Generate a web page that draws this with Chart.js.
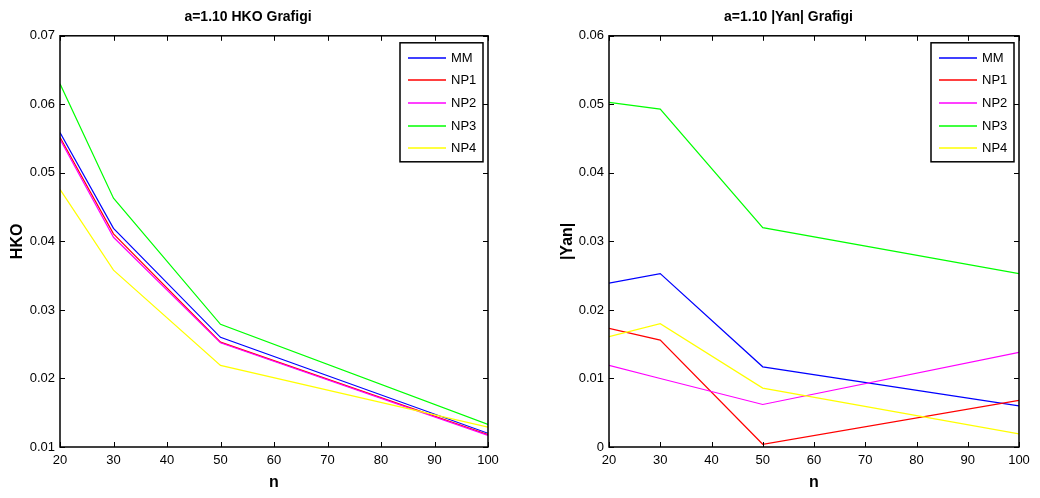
<!DOCTYPE html>
<html>
<head>
<meta charset="utf-8">
<script src="https://cdn.jsdelivr.net/npm/chart.js@4.4.1/dist/chart.umd.min.js"></script>
<style>
    html, body { margin: 0; padding: 0; background: #fff; }
    .wrap { position: absolute; top: 0; width: 520px; height: 498px; }
</style>
</head>
<body>
<div class="wrap" style="left:0"><canvas id="hkoChart" width="520" height="498"></canvas></div>
<div class="wrap" style="left:520px"><canvas id="yanChart" width="520" height="498"></canvas></div>
<script>
const nValues = [20, 30, 50, 100];
const seriesNames = ['MM', 'NP1', 'NP2', 'NP3', 'NP4'];
const seriesColors = ['#0000ff', '#ff0000', '#ff00ff', '#00ff00', '#ffff00'];

// HKO
const hkoMM  = [0.0559, 0.0419, 0.0260, 0.0120];
const hkoNP1 = [0.0552, 0.0411, 0.0253, 0.0118];
const hkoNP2 = [0.0549, 0.0406, 0.0252, 0.0117];
const hkoNP3 = [0.0630, 0.0463, 0.0279, 0.0133];
const hkoNP4 = [0.0476, 0.0358, 0.0219, 0.0129];

// |Yan|
const yanMM  = [0.0239, 0.0253, 0.0117, 0.0060];
const yanNP1 = [0.0173, 0.0156, 0.0004, 0.0068];
const yanNP2 = [0.0119, 0.0100, 0.0062, 0.0138];
const yanNP3 = [0.0503, 0.0493, 0.0320, 0.0253];
const yanNP4 = [0.0161, 0.0180, 0.0086, 0.0019];

const FONT = '"Liberation Sans", Arial, sans-serif';

// matlab tarzi kutu + iceri bakan tickler + kutulu legend
const matlabBox = {
    id: 'matlabBox',
    afterDatasetsDraw(chart) {
        const ctx = chart.ctx;
        const a = chart.chartArea;
        const xs = chart.scales.x, ys = chart.scales.y;
        ctx.save();
        ctx.strokeStyle = '#000';
        ctx.lineWidth = 1;
        xs.ticks.forEach(t => {
            const px = Math.round(xs.getPixelForValue(t.value)) + 0.5;
            ctx.beginPath();
            ctx.moveTo(px, a.bottom); ctx.lineTo(px, a.bottom - 5);
            ctx.moveTo(px, a.top); ctx.lineTo(px, a.top + 5);
            ctx.stroke();
        });
        ys.ticks.forEach(t => {
            const py = Math.round(ys.getPixelForValue(t.value)) + 0.5;
            ctx.beginPath();
            ctx.moveTo(a.left, py); ctx.lineTo(a.left + 5, py);
            ctx.moveTo(a.right, py); ctx.lineTo(a.right - 5, py);
            ctx.stroke();
        });
        ctx.lineWidth = 1.5;
        ctx.strokeRect(a.left, a.top, a.right - a.left, a.bottom - a.top);

        // legend
        const bw = 83, bh = 119;
        const bx = a.right - 5 - bw, by = a.top + 7;
        ctx.fillStyle = '#fff';
        ctx.fillRect(bx, by, bw, bh);
        ctx.lineWidth = 1.5;
        ctx.strokeRect(bx, by, bw, bh);
        ctx.font = '13px ' + FONT;
        ctx.textBaseline = 'middle';
        chart.data.datasets.forEach((ds, i) => {
            const ly = Math.round(by + 15 + i * 22.6);
            ctx.strokeStyle = ds.borderColor;
            ctx.lineWidth = 1.6;
            ctx.beginPath();
            ctx.moveTo(bx + 8, ly); ctx.lineTo(bx + 46, ly);
            ctx.stroke();
            ctx.fillStyle = '#000';
            ctx.fillText(ds.label, bx + 51, ly);
        });
        ctx.restore();
    }
};

function makeChart(canvasId, titleText, yTitle, data, yMin, yMax, opts) {
    const datasets = data.map((vals, i) => ({
        label: seriesNames[i],
        data: vals.map((v, k) => ({ x: nValues[k], y: v })),
        borderColor: seriesColors[i],
        backgroundColor: seriesColors[i],
        borderWidth: 1.2,
        pointRadius: 0,
        tension: 0,
        fill: false,
        order: data.length - i
    }));

    return new Chart(document.getElementById(canvasId).getContext('2d'), {
        type: 'line',
        data: { datasets: datasets },
        options: {
            responsive: false,
            animation: false,
            layout: { padding: { left: opts.padLeft, right: opts.padRight, top: 0, bottom: 0 } },
            plugins: {
                legend: { display: false },
                tooltip: { enabled: false },
                title: {
                    display: true,
                    text: titleText,
                    color: '#000',
                    font: { family: FONT, size: 14, weight: 'bold' },
                    padding: { top: 9, bottom: opts.titleGap }
                }
            },
            scales: {
                x: {
                    type: 'linear',
                    min: 20,
                    max: 100,
                    ticks: {
                        stepSize: 10,
                        color: '#000',
                        padding: 6,
                        font: { family: FONT, size: 13 }
                    },
                    grid: { display: false, drawTicks: false, tickLength: 0 },
                    border: { display: false },
                    title: {
                        display: true,
                        text: 'n',
                        color: '#000',
                        font: { family: FONT, size: 16, weight: 'bold' },
                        padding: { top: 2, bottom: 6 }
                    },
                    afterFit: function (scale) { scale.height = 51; }
                },
                y: {
                    min: yMin,
                    max: yMax,
                    ticks: {
                        stepSize: 0.01,
                        color: '#000',
                        padding: 5,
                        font: { family: FONT, size: 13 },
                        callback: v => Math.abs(v) < 1e-9 ? '0' : v.toFixed(2)
                    },
                    grid: { display: false, drawTicks: false, tickLength: 0 },
                    border: { display: false },
                    title: {
                        display: true,
                        text: yTitle,
                        color: '#000',
                        font: { family: FONT, size: 16, weight: 'bold' },
                        padding: { top: 0, bottom: 0 }
                    },
                    afterFit: function (scale) { scale.width = opts.axisWidth; }
                }
            }
        },
        plugins: [matlabBox]
    });
}

makeChart('hkoChart', 'a=1.10 HKO Grafigi', 'HKO',
    [hkoMM, hkoNP1, hkoNP2, hkoNP3, hkoNP4], 0.01, 0.07,
    { padLeft: 8, padRight: 32, axisWidth: 52, titleGap: 10 });

makeChart('yanChart', 'a=1.10 |Yan| Grafigi', '|Yan|',
    [yanMM, yanNP1, yanNP2, yanNP3, yanNP4], 0, 0.06,
    { padLeft: 38, padRight: 21, axisWidth: 51, titleGap: 10 });
</script>
</body>
</html>
